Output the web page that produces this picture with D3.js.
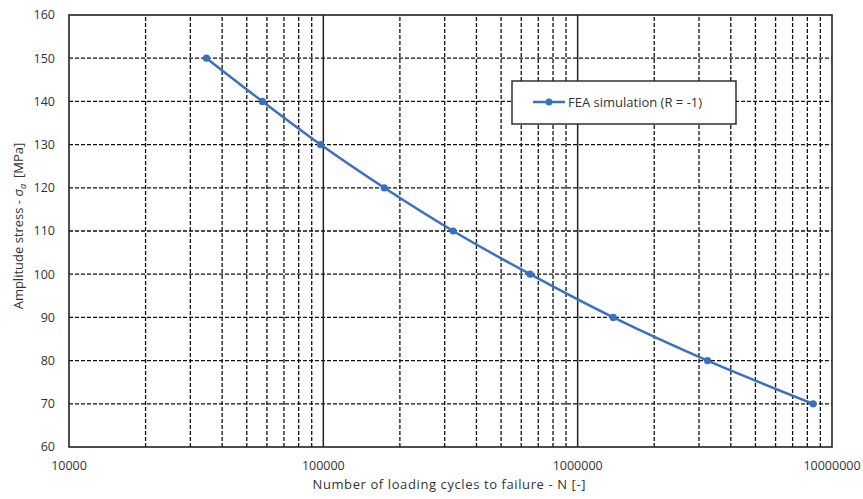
<!DOCTYPE html>
<html>
<head>
<meta charset="UTF-8" />
<script src="https://d3js.org/d3.v7.min.js"></script>
<style>
  body { margin: 0; background: #fff; }
  text { font-family: "Open Sans", sans-serif; fill: #333; }
</style>
</head>
<body>
<div id="chart"></div>
<script>
// cycles to failure and stress amplitude
const cycles = [34700, 57600, 97500, 173500, 324000, 650000, 1380000, 3240000, 8430000];
const stress = [150, 140, 130, 120, 110, 100, 90, 80, 70];
const yTicks = [60, 70, 80, 90, 100, 110, 120, 130, 140, 150, 160];
const xTicks = [10000, 100000, 1000000, 10000000];
const seriesName = "FEA simulation (R = -1)";

const width = 863, height = 499;
const margin = { top: 15, right: 31, bottom: 52, left: 69 };

const svg = d3.select("#chart").append("svg")
  .attr("width", width)
  .attr("height", height);

const x = d3.scaleLog().domain([1e4, 1e7]).range([margin.left, width - margin.right]);
const y = d3.scaleLinear().domain([60, 160]).range([height - margin.bottom, margin.top]);

// minor vertical grid (2..9 of each decade), dashed
const minor = [];
[1e4, 1e5, 1e6].forEach(d => { for (let k = 2; k <= 9; k++) minor.push(d * k); });

svg.append("g").selectAll("line")
  .data(minor)
  .enter().append("line")
  .attr("x1", d => x(d)).attr("x2", d => x(d))
  .attr("y1", y(60)).attr("y2", y(160))
  .attr("stroke", "#111")
  .attr("stroke-width", 1.3)
  .attr("stroke-dasharray", "4,2");

// horizontal grid, dashed
svg.append("g").selectAll("line")
  .data(yTicks.slice(1, -1))
  .enter().append("line")
  .attr("x1", x(1e4)).attr("x2", x(1e7))
  .attr("y1", d => y(d)).attr("y2", d => y(d))
  .attr("stroke", "#111")
  .attr("stroke-width", 1.3)
  .attr("stroke-dasharray", "4,2");

// major decade lines, solid
svg.append("g").selectAll("line")
  .data(xTicks.slice(1, -1))
  .enter().append("line")
  .attr("x1", d => x(d)).attr("x2", d => x(d))
  .attr("y1", y(60)).attr("y2", y(160))
  .attr("stroke", "#222")
  .attr("stroke-width", 1.5);

// frame
svg.append("rect")
  .attr("x", x(1e4)).attr("y", y(160))
  .attr("width", x(1e7) - x(1e4))
  .attr("height", y(60) - y(160))
  .attr("fill", "none")
  .attr("stroke", "#222")
  .attr("stroke-width", 1.6);

// tick labels
svg.append("g").selectAll("text")
  .data(yTicks)
  .enter().append("text")
  .attr("x", 55)
  .attr("y", d => y(d))
  .attr("dy", "0.35em")
  .attr("text-anchor", "end")
  .style("font-size", "12.5px")
  .text(d => d);

svg.append("g").selectAll("text")
  .data(xTicks)
  .enter().append("text")
  .attr("x", d => x(d))
  .attr("y", 470)
  .attr("text-anchor", "middle")
  .style("font-size", "12.5px")
  .text(d => d);

// axis titles
svg.append("text")
  .attr("x", 449)
  .attr("y", 489)
  .attr("text-anchor", "middle")
  .attr("textLength", 273)
  .style("font-size", "13px")
  .text("Number of loading cycles to failure - N [-]");

const yt = svg.append("text")
  .attr("transform", "translate(23,226) rotate(-90)")
  .attr("text-anchor", "middle")
  .style("font-size", "13px");
yt.append("tspan").text("Amplitude stress - ");
yt.append("tspan").style("font-style", "italic").text("σ");
yt.append("tspan").style("font-style", "italic").style("font-size", "9px").attr("dy", 3).text("a");
yt.append("tspan").attr("dy", -3).attr("dx", 6).text("[MPa]");

// series
const pts = cycles.map((c, i) => [x(c), y(stress[i])]);
const blue = "#3a70c2";

svg.append("path")
  .attr("d", d3.line().curve(d3.curveCatmullRom.alpha(0.5))(pts))
  .attr("fill", "none")
  .attr("stroke", blue)
  .attr("stroke-width", 2.5);

svg.append("g").selectAll("circle")
  .data(pts)
  .enter().append("circle")
  .attr("cx", d => d[0]).attr("cy", d => d[1])
  .attr("r", 3.6)
  .attr("fill", blue);

// legend
const lg = svg.append("g");
lg.append("rect")
  .attr("x", 512).attr("y", 81)
  .attr("width", 224).attr("height", 43)
  .attr("fill", "#fff")
  .attr("stroke", "#222")
  .attr("stroke-width", 1.4);
lg.append("line")
  .attr("x1", 533).attr("x2", 565)
  .attr("y1", 102).attr("y2", 102)
  .attr("stroke", blue).attr("stroke-width", 2.5);
lg.append("circle")
  .attr("cx", 549).attr("cy", 102).attr("r", 3.5).attr("fill", blue);
lg.append("text")
  .attr("x", 568).attr("y", 102)
  .attr("dy", "0.35em")
  .style("font-size", "13px")
  .text(seriesName);
</script>
</body>
</html>
